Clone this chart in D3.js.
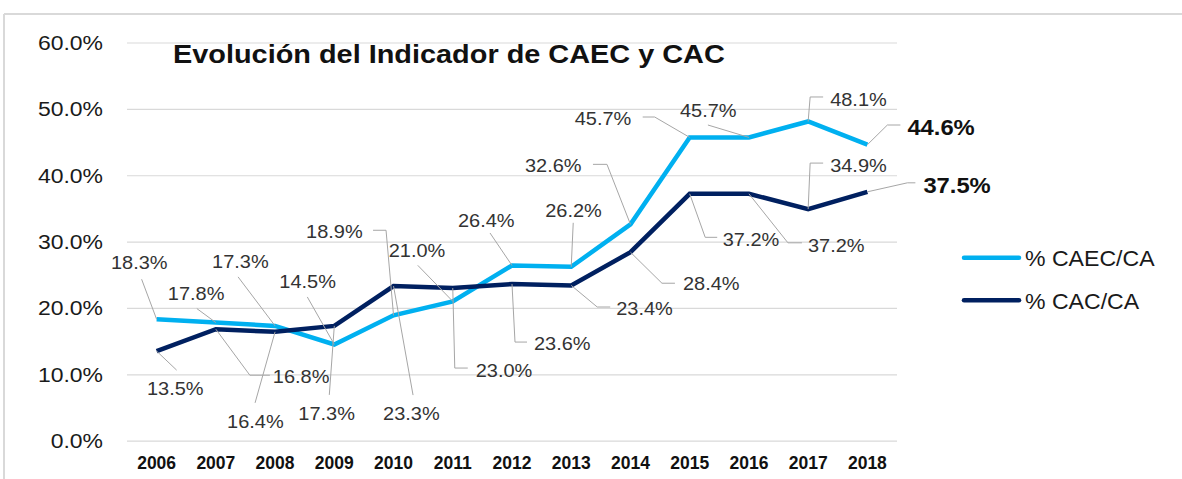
<!DOCTYPE html>
<html>
<head>
<meta charset="utf-8">
<script src="https://cdn.jsdelivr.net/npm/d3@7"></script>
<style>
  html, body { margin: 0; padding: 0; background: #fff; }
  svg { display: block; font-family: Arial, "Liberation Sans", sans-serif; }
</style>
</head>
<body>
<svg id="chart" width="1182" height="479"></svg>
<script>
// ---- data ----
const years = ["2006","2007","2008","2009","2010","2011","2012","2013","2014","2015","2016","2017","2018"];
const caec = [18.3, 17.8, 17.3, 14.5, 18.9, 21.0, 26.4, 26.2, 32.6, 45.7, 45.7, 48.1, 44.6];
const cac  = [13.5, 16.8, 16.4, 17.3, 23.3, 23.0, 23.6, 23.4, 28.4, 37.2, 37.2, 34.9, 37.5];
const yTicks = [0, 10, 20, 30, 40, 50, 60];
const seriesNames = ["% CAEC/CA", "% CAC/CA"];
const titleText = "Evolución del Indicador de CAEC y CAC";

// ---- label layout (offsets from each point: text origin, leader path) ----
const caecLabelLayout = [
  {t:[-45.6,-50.2], p:[[-15,-40]]},
  {t:[-48,-22.6],  p:[[-19,-14]]},
  {t:[-63,-58],    p:[[-37,-49]]},
  {t:[-55,-56.5],  p:[[-27,-47.5]]},
  {t:[-87.5,-77],  p:[[-7.5,-85],[-20.5,-85]]},
  {t:[-64,-44],    p:[[-35,-36]]},
  {t:[-54,-38.5],  p:[[-22,-32.5]]},
  {t:[-26,-50],    p:[[2,-44]]},
  {t:[-105.5,-52], p:[[-23.5,-60],[-37.5,-60]]},
  {t:[-115,-12.4], p:[[-35,-20.4],[-47,-20.4]]},
  {t:[-69,-20.4],  p:[[-41,-12.4]]},
  {t:[22,-15.5],   p:[[2,-24.5],[15,-24.5]]},
  {t:[40,-9.7],    p:[[20,-19.7],[33,-19.7]], bold:true}
];
const cacLabelLayout = [
  {t:[-9.6,44],   p:[[20,19]]},
  {t:[57,54],     p:[[34,46],[54,46]]},
  {t:[-48,96],    p:[[-20,71]]},
  {t:[-36,94],    p:[[-5,69]]},
  {t:[-10.5,134], p:[[19.5,109]]},
  {t:[23,89],     p:[[2,80],[15,80]]},
  {t:[22,66],     p:[[3,58],[15,58]]},
  {t:[45,29.6],   p:[[26,21.6],[39,21.6]]},
  {t:[52.5,38],   p:[[31.5,31],[44.5,31]]},
  {t:[33,52],     p:[[15.5,43.5],[27.5,43.5]]},
  {t:[59,58],     p:[[39,49],[53,49]]},
  {t:[22,-37],    p:[[2,-46],[15,-46]]},
  {t:[56,1],      p:[[40,-9],[48,-9]], bold:true}
];

// ---- setup ----
const colors = ["#00b0f0", "#002060"];
const svg = d3.select("#chart");
const plot = {left: 127, right: 897, top: 42.5, bottom: 440.7};

const x = d3.scaleBand().domain(years).range([plot.left, plot.right]).padding(0);
const y = d3.scaleLinear().domain([0, 60]).range([plot.bottom, plot.top]);
const cx = d => x(d) + x.bandwidth() / 2;

// frame
svg.append("line").attr("x1", 4).attr("x2", 1182).attr("y1", 14).attr("y2", 14)
  .attr("stroke", "#d9d9d9").attr("stroke-width", 2);
svg.append("line").attr("x1", 4).attr("x2", 4).attr("y1", 14).attr("y2", 479)
  .attr("stroke", "#d9d9d9").attr("stroke-width", 2);

// helper for horizontally stretched text
function stext(parent, tx, ty, str, opts) {
  const g = parent.append("g").attr("transform", `translate(${tx},${ty}) scale(${opts.sx || 1},1)`);
  return g.append("text")
    .attr("x", 0).attr("y", 0)
    .attr("text-anchor", opts.anchor || "start")
    .attr("font-size", opts.size)
    .attr("font-weight", opts.weight || "normal")
    .attr("fill", opts.fill || "#262626")
    .text(str);
}

// gridlines
const yAxis = d3.axisLeft(y).tickValues(yTicks).tickSize(-(plot.right - plot.left)).tickFormat("");
const gy = svg.append("g").attr("transform", `translate(${plot.left},0)`).call(yAxis);
gy.select(".domain").remove();
gy.selectAll(".tick line").attr("stroke", "#d9d9d9").attr("stroke-width", 1.2);

// y tick labels
yTicks.forEach(v => {
  stext(svg, 103, y(v) + 7.5, d3.format(".1f")(v) + "%", {size: 20.5, sx: 1.12, anchor: "end", fill: "#1a1a1a"});
});

// x axis labels
const xAxis = d3.axisBottom(x).tickSize(0).tickFormat("");
const gx = svg.append("g").attr("transform", `translate(0,${plot.bottom})`).call(xAxis);
gx.select(".domain").remove();
years.forEach(yr => {
  stext(svg, cx(yr), 469, yr, {size: 17.5, sx: 1.0, anchor: "middle", weight: "bold", fill: "#111"});
});

// lines
const lineGen = d3.line().x((d, i) => cx(years[i])).y(d => y(d));
[caec, cac].forEach((s, k) => {
  svg.append("path").datum(s)
    .attr("d", lineGen)
    .attr("fill", "none")
    .attr("stroke", colors[k])
    .attr("stroke-width", 4.5)
    .attr("stroke-linejoin", "miter")
    .attr("stroke-linecap", "butt");
});

// labels with leader lines
function drawLabels(series, layout) {
  series.forEach((v, i) => {
    const px = cx(years[i]), py = y(v);
    const L = layout[i];
    const pts = [[px, py]].concat(L.p.map(q => [px + q[0], py + q[1]]));
    svg.append("path")
      .attr("d", d3.line()(pts))
      .attr("fill", "none").attr("stroke", "#a6a6a6").attr("stroke-width", 1);
    if (L.bold) {
      stext(svg, px + L.t[0], py + L.t[1], d3.format(".1f")(v) + "%", {size: 22, sx: 1.08, weight: "bold", fill: "#111"});
    } else {
      stext(svg, px + L.t[0], py + L.t[1], d3.format(".1f")(v) + "%", {size: 18, sx: 1.11, fill: "#333"});
    }
  });
}
drawLabels(caec, caecLabelLayout);
drawLabels(cac, cacLabelLayout);

// title
stext(svg, 173, 63, titleText, {size: 26.5, sx: 1.09, weight: "bold", fill: "#111"});

// legend
const legY = [257.7, 300.3];
seriesNames.forEach((n, k) => {
  svg.append("line").attr("x1", 964).attr("x2", 1019).attr("y1", legY[k]).attr("y2", legY[k])
    .attr("stroke", colors[k]).attr("stroke-width", 4.5).attr("stroke-linecap", "round");
  stext(svg, 1025, legY[k] + 8.5, n, {size: 22, sx: 1.05, fill: "#1a1a1a"});
});
</script>
</body>
</html>
